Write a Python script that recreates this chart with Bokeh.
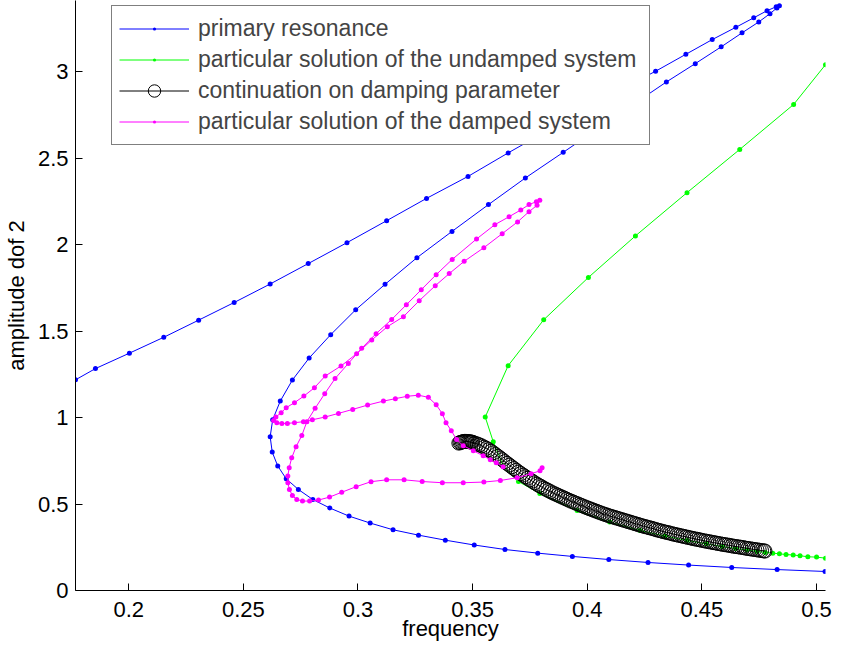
from bokeh.plotting import figure
from bokeh.models import Legend, LegendItem, FixedTicker
from bokeh.embed import file_html
from bokeh.resources import INLINE

# ---------------- data ----------------
blue_freq = [0.1768, 0.1855, 0.2003, 0.2153, 0.2305, 0.2460, 0.2617, 0.2783, 0.2952, 0.3125,
             0.3299, 0.3480, 0.3655, 0.3815, 0.3975, 0.4135, 0.4298, 0.4430, 0.4545, 0.4648,
             0.4726, 0.4784, 0.4824, 0.4838, 0.4827, 0.4797, 0.4748, 0.4675, 0.4584, 0.4471,
             0.4345, 0.4205, 0.4055, 0.3895, 0.3730, 0.3569, 0.3410, 0.3257, 0.3118, 0.2990,
             0.2881, 0.2787, 0.2714, 0.2661, 0.2628, 0.2617, 0.2626, 0.2650, 0.2687, 0.2740,
             0.2803, 0.2877, 0.2961, 0.3053, 0.3153, 0.3264, 0.3381, 0.3507, 0.3641, 0.3784,
             0.3935, 0.4094, 0.4265, 0.4442, 0.4630, 0.4828, 0.5037]
blue_amp = [1.218, 1.283, 1.372, 1.464, 1.563, 1.665, 1.772, 1.890, 2.011, 2.138,
            2.267, 2.394, 2.530, 2.650, 2.770, 2.890, 3.002, 3.100, 3.185, 3.256,
            3.311, 3.352, 3.375, 3.380, 3.368, 3.335, 3.287, 3.224, 3.143, 3.046,
            2.940, 2.814, 2.678, 2.533, 2.385, 2.231, 2.076, 1.924, 1.770, 1.623,
            1.479, 1.344, 1.217, 1.095, 0.987, 0.889, 0.800, 0.720, 0.646, 0.584,
            0.526, 0.477, 0.430, 0.390, 0.351, 0.320, 0.291, 0.263, 0.237, 0.216,
            0.197, 0.179, 0.162, 0.147, 0.133, 0.121, 0.110]

green_freq = [0.5039, 0.4900, 0.4665, 0.4435, 0.4210, 0.4005, 0.3810, 0.3655, 0.3555, 0.3590,
              0.3633, 0.3700, 0.3793, 0.3956, 0.4098, 0.4230, 0.4338, 0.4436, 0.4519, 0.4588,
              0.4647, 0.4696, 0.4741, 0.4776, 0.4809, 0.4838, 0.4867, 0.4898, 0.4928, 0.4962,
              0.5000, 0.5039]
green_amp = [3.040, 2.810, 2.550, 2.300, 2.050, 1.810, 1.565, 1.300, 1.003, 0.860,
             0.721, 0.630, 0.561, 0.462, 0.396, 0.347, 0.315, 0.289, 0.270, 0.254,
             0.243, 0.234, 0.226, 0.220, 0.216, 0.212, 0.208, 0.205, 0.201, 0.195,
             0.193, 0.187]

cont_freq = [0.3440, 0.3445, 0.3450, 0.3455, 0.3460, 0.3465, 0.3470, 0.3475, 0.3480, 0.3485,
             0.3490, 0.3495,
             0.350, 0.351, 0.352, 0.353, 0.354, 0.355, 0.356, 0.357, 0.358, 0.359,
             0.360, 0.361, 0.362, 0.363, 0.364, 0.365, 0.366, 0.367, 0.368, 0.369,
             0.370, 0.371, 0.372, 0.373, 0.374, 0.375, 0.376, 0.377, 0.378, 0.379,
             0.380, 0.381, 0.382, 0.383, 0.384, 0.385, 0.386, 0.387, 0.388, 0.389,
             0.390, 0.391, 0.392, 0.393, 0.394, 0.395, 0.396, 0.397, 0.398, 0.399,
             0.400, 0.401, 0.402, 0.403, 0.404, 0.405, 0.406, 0.407, 0.408, 0.409,
             0.410, 0.411, 0.412, 0.413, 0.414, 0.415, 0.416, 0.417, 0.418, 0.419,
             0.420, 0.421, 0.422, 0.423, 0.424, 0.425, 0.426, 0.427, 0.428, 0.429,
             0.430, 0.431, 0.432, 0.433, 0.434, 0.435, 0.436, 0.437, 0.438, 0.439,
             0.440, 0.441, 0.442, 0.443, 0.444, 0.445, 0.446, 0.447, 0.448, 0.449,
             0.450, 0.451, 0.452, 0.453, 0.454, 0.455, 0.456, 0.457, 0.458, 0.459,
             0.460, 0.461, 0.462, 0.463, 0.464, 0.465, 0.466, 0.467, 0.468, 0.469,
             0.470, 0.471, 0.472, 0.473, 0.474, 0.475, 0.476, 0.477, 0.4775]
cont_amp = [0.852, 0.855, 0.857, 0.859, 0.861, 0.862, 0.862, 0.862, 0.861, 0.860,
            0.859, 0.858,
            0.857, 0.852, 0.847, 0.842, 0.836, 0.829, 0.822, 0.814, 0.805, 0.796,
            0.786, 0.776, 0.766, 0.756, 0.745, 0.735, 0.725, 0.715, 0.705, 0.695,
            0.685, 0.676, 0.667, 0.658, 0.649, 0.640, 0.632, 0.623, 0.615, 0.607,
            0.600, 0.592, 0.585, 0.578, 0.571, 0.564, 0.558, 0.552, 0.546, 0.540,
            0.534, 0.528, 0.522, 0.516, 0.511, 0.505, 0.500, 0.494, 0.489, 0.483,
            0.478, 0.473, 0.468, 0.463, 0.458, 0.453, 0.448, 0.443, 0.439, 0.434,
            0.430, 0.426, 0.422, 0.418, 0.414, 0.410, 0.406, 0.402, 0.398, 0.394,
            0.390, 0.386, 0.382, 0.378, 0.374, 0.370, 0.367, 0.363, 0.360, 0.356,
            0.352, 0.348, 0.345, 0.341, 0.338, 0.335, 0.332, 0.328, 0.325, 0.322,
            0.319, 0.316, 0.313, 0.310, 0.307, 0.304, 0.301, 0.298, 0.296, 0.293,
            0.290, 0.287, 0.285, 0.282, 0.280, 0.277, 0.275, 0.272, 0.270, 0.267,
            0.265, 0.263, 0.261, 0.258, 0.256, 0.254, 0.252, 0.250, 0.248, 0.245,
            0.243, 0.241, 0.239, 0.237, 0.235, 0.233, 0.231, 0.229, 0.228]

mag_freq = [0.3803, 0.3794, 0.3755, 0.3694, 0.3621, 0.3549, 0.3459, 0.3368, 0.3280, 0.3201,
            0.3125, 0.3057, 0.2992, 0.2929, 0.2876, 0.2828, 0.2789, 0.2758, 0.2733, 0.2714,
            0.2701, 0.2694, 0.2694, 0.2700, 0.2711, 0.2730, 0.2755, 0.2777, 0.2813, 0.2855,
            0.2900, 0.2958, 0.3016, 0.3079, 0.3147, 0.3211, 0.3276, 0.3341, 0.3411, 0.3517,
            0.3597, 0.3659, 0.3710, 0.3746, 0.3778, 0.3793, 0.3781, 0.3746, 0.3696, 0.3629,
            0.3549, 0.3463, 0.3398, 0.3337, 0.3267, 0.3198, 0.3128, 0.3060, 0.2994, 0.2926,
            0.2857, 0.2810, 0.2764, 0.2723, 0.2687, 0.2665, 0.2642, 0.2632, 0.2646, 0.2668,
            0.2692, 0.2723, 0.2762, 0.2801, 0.2857, 0.2915, 0.2977, 0.3042, 0.3111, 0.3163,
            0.3215, 0.3263, 0.3307, 0.3341, 0.3368, 0.3384, 0.3407, 0.3430, 0.3459, 0.3503,
            0.3546, 0.3577, 0.3603, 0.3633]
mag_amp = [0.710, 0.692, 0.675, 0.652, 0.636, 0.627, 0.623, 0.623, 0.630, 0.640,
           0.640, 0.629, 0.600, 0.568, 0.540, 0.523, 0.517, 0.517, 0.526, 0.549,
           0.584, 0.623, 0.662, 0.710, 0.767, 0.831, 0.896, 0.976, 1.053, 1.138,
           1.225, 1.313, 1.400, 1.485, 1.567, 1.652, 1.739, 1.826, 1.914, 2.032,
           2.115, 2.161, 2.200, 2.231, 2.248, 2.256, 2.227, 2.190, 2.131, 2.063,
           1.982, 1.903, 1.832, 1.762, 1.675, 1.583, 1.525, 1.448, 1.369, 1.298,
           1.240, 1.172, 1.124, 1.086, 1.057, 1.028, 1.003, 0.983, 0.970, 0.966,
           0.966, 0.970, 0.976, 0.987, 1.003, 1.024, 1.047, 1.072, 1.095, 1.109,
           1.123, 1.129, 1.117, 1.074, 1.022, 0.970, 0.924, 0.873, 0.837, 0.808,
           0.779, 0.756, 0.739, 0.715]

x_ticks = [0.2, 0.25, 0.3, 0.35, 0.4, 0.45, 0.5]
x_tick_labels = ["0.2", "0.25", "0.3", "0.35", "0.4", "0.45", "0.5"]
y_ticks = [0, 0.5, 1, 1.5, 2, 2.5, 3]
y_tick_labels = ["0", "0.5", "1", "1.5", "2", "2.5", "3"]

labels = ["primary resonance",
          "particular solution of the undamped system",
          "continuation on damping parameter",
          "particular solution of the damped system"]
x_label = "frequency"
y_label = "amplitude dof 2"

# ---------------- figure ----------------
FONT = "Liberation Sans"
FS = "22px"
p = figure(width=835, height=643, x_range=(0.1768, 0.5039), y_range=(0, 3.411),
           output_backend="svg", toolbar_location=None,
           min_border_left=74, min_border_right=10, min_border_top=0, min_border_bottom=53)
p.outline_line_color = None
p.grid.visible = False
p.background_fill_color = "white"
p.border_fill_color = "white"

r_bl = p.line(blue_freq, blue_amp, color="#0000ff", line_width=1)
r_bs = p.scatter(blue_freq, blue_amp, marker="dot", size=20, line_color="#0000ff", fill_color="#0000ff")
r_gl = p.line(green_freq, green_amp, color="#00ff00", line_width=1)
r_gs = p.scatter(green_freq, green_amp, marker="dot", size=20, line_color="#00ff00", fill_color="#00ff00")
r_kl = p.line(cont_freq, cont_amp, color="black", line_width=1)
r_ks = p.scatter(cont_freq, cont_amp, size=14, marker="circle", fill_color=None,
                 line_color="black", line_width=1)
r_ml = p.line(mag_freq, mag_amp, color="#ff00ff", line_width=1)
r_ms = p.scatter(mag_freq, mag_amp, marker="dot", size=20, line_color="#ff00ff", fill_color="#ff00ff")

for ax, ticks, labs in ((p.xaxis[0], x_ticks, x_tick_labels), (p.yaxis[0], y_ticks, y_tick_labels)):
    ax.ticker = FixedTicker(ticks=ticks)
    ax.major_label_overrides = {t: l for t, l in zip(ticks, labs)}
    ax.major_tick_in = 7
    ax.major_tick_out = 0
    ax.minor_tick_line_color = None
    ax.axis_line_color = "black"
    ax.major_tick_line_color = "black"
    ax.major_label_text_font = FONT
    ax.major_label_text_font_size = FS
    ax.major_label_text_color = "black"
    ax.axis_label_text_font = FONT
    ax.axis_label_text_font_size = FS
    ax.axis_label_text_font_style = "normal"
    ax.axis_label_text_color = "black"

p.xaxis.axis_label = x_label
p.yaxis.axis_label = y_label
p.xaxis.major_label_standoff = 11
p.xaxis.axis_label_standoff = -4
p.yaxis.major_label_standoff = 7
p.yaxis.axis_label_standoff = 6

legend = Legend(items=[LegendItem(label=labels[0], renderers=[r_bl, r_bs]),
                       LegendItem(label=labels[1], renderers=[r_gl, r_gs]),
                       LegendItem(label=labels[2], renderers=[r_kl, r_ks]),
                       LegendItem(label=labels[3], renderers=[r_ml, r_ms])],
                location=(36, 445))
legend.label_text_font = FONT
legend.label_text_font_size = "23px"
legend.glyph_width = 70
legend.glyph_height = 31
legend.label_height = 20
legend.label_width = 444
legend.spacing = 0
legend.padding = 7
legend.margin = 0
legend.label_standoff = 9
legend.border_line_color = "black"
legend.border_line_width = 1
legend.background_fill_alpha = 1
p.add_layout(legend, "center")

open("out.html", "w").write(file_html(p, INLINE))
